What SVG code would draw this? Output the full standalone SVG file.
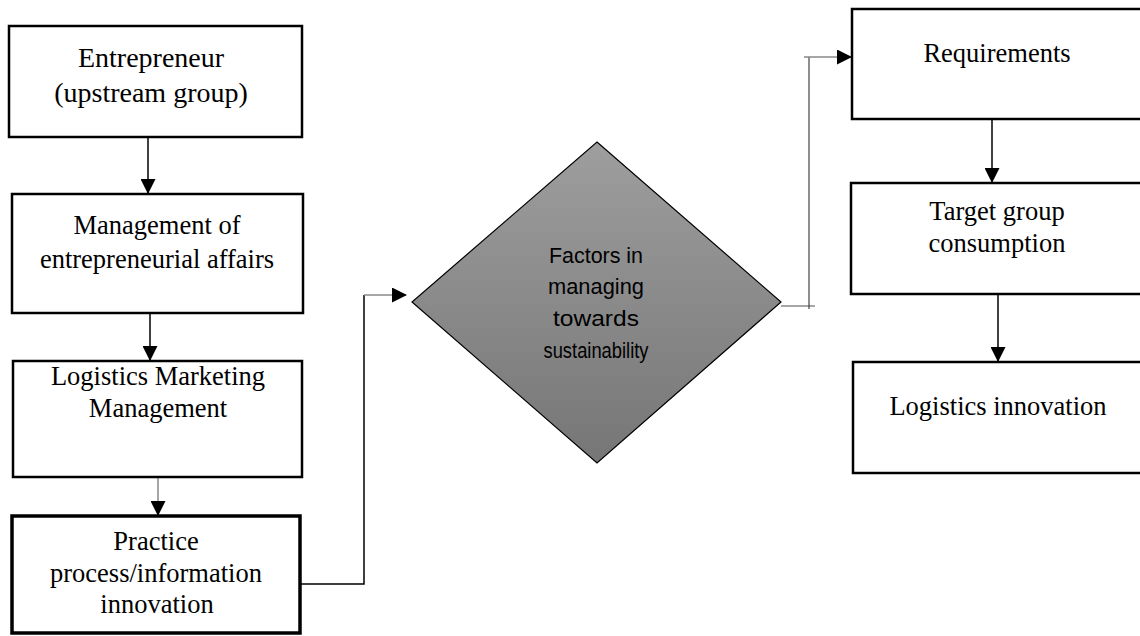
<svg xmlns="http://www.w3.org/2000/svg" width="1140" height="636" viewBox="0 0 1140 636">
<defs>
<linearGradient id="dg" x1="0" y1="0" x2="0" y2="1">
<stop offset="0" stop-color="#9e9e9e"/>
<stop offset="1" stop-color="#767676"/>
</linearGradient>
<marker id="ah" markerUnits="userSpaceOnUse" markerWidth="15" markerHeight="15" refX="14" refY="7.5" orient="auto">
<path d="M0,0 L15,7.5 L0,15 z" fill="#000"/>
</marker>
<style>
.box{fill:#fff;stroke:#000;stroke-width:2.5}
.t{font-family:"Liberation Serif","Times New Roman",serif;font-size:26.5px;fill:#000;text-anchor:middle}
.d{font-family:"Liberation Sans",Arial,sans-serif;font-size:22px;fill:#000;text-anchor:middle}
.c{fill:none;stroke:#000;stroke-width:1.5}
.g{fill:none;stroke:#888;stroke-width:1.5}
</style>
</defs>
<rect width="1140" height="636" fill="#fff"/>

<g id="connectors">
<line class="c" x1="148" y1="137" x2="148" y2="193" marker-end="url(#ah)"/>
<line class="c" x1="150" y1="313" x2="150" y2="360" marker-end="url(#ah)"/>
<line class="g" x1="158" y1="477" x2="158" y2="515" marker-end="url(#ah)"/>
<polyline class="c" points="301,584 364,584 364,295"/>
<line class="g" x1="364" y1="295" x2="406" y2="295" marker-end="url(#ah)"/>
<line class="g" x1="781" y1="306" x2="815" y2="306"/>
<line x1="809" y1="309" x2="809" y2="57" stroke="#444" stroke-width="1.2"/>
<line class="g" x1="804" y1="57" x2="851" y2="57" marker-end="url(#ah)"/>
<line class="c" x1="992" y1="119" x2="992" y2="182" marker-end="url(#ah)"/>
<line class="c" x1="998" y1="294" x2="998" y2="361" marker-end="url(#ah)"/>
</g>

<g id="n1">
<rect class="box" x="9" y="26" width="293" height="111"/>
<text class="t" x="151" y="67" style="font-size:28px">Entrepreneur</text>
<text class="t" x="151" y="102" style="font-size:28px">(upstream group)</text>
</g>

<g id="n2">
<rect class="box" x="12" y="194" width="291" height="119"/>
<text class="t" x="157" y="234">Management of</text>
<text class="t" x="157" y="268">entrepreneurial affairs</text>
</g>

<g id="n3">
<rect class="box" x="13" y="361" width="289" height="116"/>
<text class="t" x="158" y="385">Logistics Marketing</text>
<text class="t" x="158" y="417">Management</text>
</g>

<g id="n4">
<rect class="box" x="12" y="516" width="288" height="117" style="stroke-width:3.5"/>
<text class="t" x="156" y="550">Practice</text>
<text class="t" x="156" y="582">process/information</text>
<text class="t" x="157" y="613">innovation</text>
</g>

<g id="n5">
<polygon points="597,142 781,302 597,463 412,302" fill="url(#dg)" stroke="#000" stroke-width="1.2"/>
<text class="d" x="596" y="263" textLength="94" lengthAdjust="spacingAndGlyphs">Factors in</text>
<text class="d" x="596" y="294" textLength="96" lengthAdjust="spacingAndGlyphs">managing</text>
<text class="d" x="596" y="326" textLength="86" lengthAdjust="spacingAndGlyphs">towards</text>
<text class="d" x="596" y="358" textLength="105" lengthAdjust="spacingAndGlyphs">sustainability</text>
</g>

<g id="n6">
<rect class="box" x="852" y="9" width="300" height="110"/>
<text class="t" x="997" y="62">Requirements</text>
</g>

<g id="n7">
<rect class="box" x="851" y="183" width="300" height="111"/>
<text class="t" x="997" y="220">Target group</text>
<text class="t" x="997" y="252">consumption</text>
</g>

<g id="n8">
<rect class="box" x="853" y="362" width="300" height="111"/>
<text class="t" x="998" y="415">Logistics innovation</text>
</g>
</svg>
